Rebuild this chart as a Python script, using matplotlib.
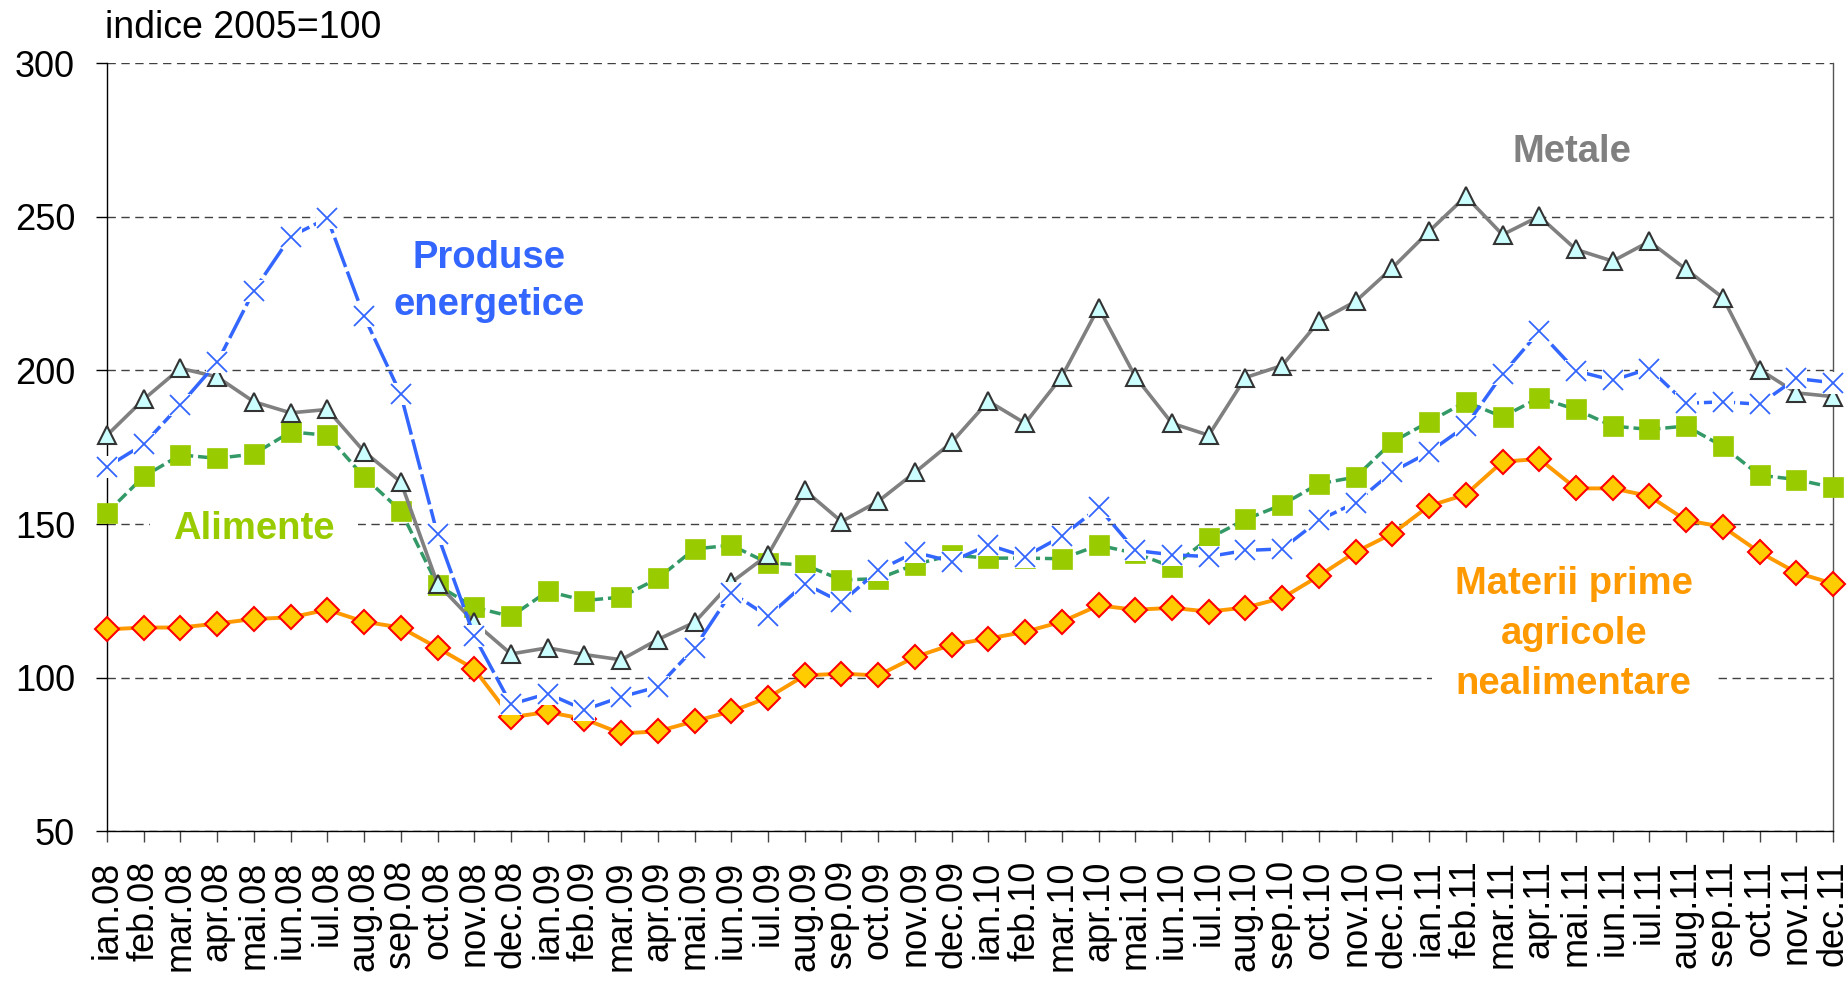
import matplotlib

matplotlib.use("Agg")
import matplotlib.pyplot as plt

plt.rcParams["font.family"] = ["Liberation Sans", "DejaVu Sans"]

# luni ian.08 - dec.11
labels = [
    "ian.08", "feb.08", "mar.08", "apr.08", "mai.08", "iun.08", "iul.08", "aug.08", "sep.08", "oct.08", "nov.08", "dec.08",
    "ian.09", "feb.09", "mar.09", "apr.09", "mai.09", "iun.09", "iul.09", "aug.09", "sep.09", "oct.09", "nov.09", "dec.09",
    "ian.10", "feb.10", "mar.10", "apr.10", "mai.10", "iun.10", "iul.10", "aug.10", "sep.10", "oct.10", "nov.10", "dec.10",
    "ian.11", "feb.11", "mar.11", "apr.11", "mai.11", "iun.11", "iul.11", "aug.11", "sep.11", "oct.11", "nov.11", "dec.11",
]

metale = [
    178.9, 190.6, 200.7, 197.9, 189.8, 186.2, 187.3, 173.6, 163.7, 130.6, 118.0, 107.7,
    109.7, 107.5, 105.8, 112.4, 118.0, 131.0, 140.0, 161.0, 150.8, 157.4, 166.8, 176.6,
    190.0, 182.8, 198.0, 220.5, 198.0, 182.8, 178.9, 197.7, 201.6, 216.0, 222.5, 233.4,
    245.3, 256.7, 244.2, 250.2, 239.4, 235.6, 242.0, 232.9, 223.7, 200.3, 192.7, 191.5,
]

energie = [
    168.6, 176.0, 188.9, 202.6, 226.0, 243.6, 249.6, 217.6, 192.2, 146.6, 113.5, 91.3,
    94.8, 89.5, 93.7, 97.0, 109.7, 127.7, 119.9, 130.6, 124.5, 134.9, 140.8, 137.8,
    143.2, 139.4, 146.0, 155.4, 141.4, 140.0, 139.4, 141.4, 141.9, 151.2, 157.0, 167.0,
    173.4, 181.9, 198.8, 212.7, 199.9, 196.8, 200.6, 189.3, 189.8, 189.0, 197.4, 196.0,
]

alimente = [
    153.7, 165.5, 172.5, 171.4, 172.8, 180.0, 178.9, 165.3, 154.3, 130.1, 122.9, 119.9,
    128.1, 125.1, 126.2, 132.3, 141.9, 143.1, 137.3, 136.7, 131.8, 132.2, 136.8, 139.9,
    138.9, 138.9, 138.7, 143.1, 140.5, 136.1, 145.3, 151.5, 156.3, 163.1, 165.3, 176.7,
    183.3, 189.8, 184.9, 191.1, 187.3, 181.9, 180.8, 181.9, 175.3, 165.9, 164.5, 161.9,
]

agricole = [
    115.7, 116.3, 116.3, 117.6, 119.1, 119.6, 122.1, 118.2, 116.3, 109.7, 102.8, 87.1,
    88.8, 86.5, 81.8, 82.5, 85.8, 89.0, 93.5, 100.7, 101.3, 100.7, 106.7, 110.7,
    112.7, 114.9, 118.2, 123.5, 122.1, 122.7, 121.5, 122.8, 125.9, 133.1, 140.9, 146.9,
    155.9, 159.6, 170.3, 171.2, 161.6, 161.6, 159.1, 151.2, 149.1, 140.8, 134.2, 130.6,
]

x = list(range(len(labels)))

fig = plt.figure(figsize=(18.48, 9.82), dpi=100)
ax = fig.add_axes([0.0579, 0.1536, 0.934, 0.7819])

ax.plot(x, alimente, color="#339966", lw=2.5, dashes=(3.2, 1.4),
        marker="s", ms=14.5, mfc="#99cc00", mec="#99cc00", mew=0.5, zorder=3, clip_on=False)
ax.plot(x, agricole, color="#ff9900", lw=2.8,
        marker="D", ms=12, mfc="#ffcc00", mec="#ff0000", mew=1.5, zorder=3, clip_on=False)
ax.plot(x, metale, color="#808080", lw=2.6,
        marker="^", ms=13.5, mfc="#ccffff", mec="#333333", mew=1.5, zorder=4, clip_on=False)
# marker "x" cu fundal alb, ca in Excel
ax.plot(x, energie, color="#3366ff", lw=2.5, dashes=(9, 1.4),
        marker="s", ms=16, mfc="white", mec="none", mew=0, zorder=5, clip_on=False)
ax.plot(x, energie, ls="none", marker="x", ms=15, mec="#3366ff", mew=1.3, zorder=5, clip_on=False)

ax.set_xlim(0, len(labels) - 1)
ax.set_ylim(50, 300)
ax.set_yticks(range(50, 301, 50))
ax.set_xticks(x)
ax.set_xticklabels(labels, rotation=90)

ax.yaxis.grid(True, color="#404040", lw=1.0, linestyle=(0, (6, 4)))
ax.set_axisbelow("line")

ax.spines["top"].set_visible(False)
ax.spines["right"].set_color("#555555")
ax.spines["right"].set_linewidth(1.0)
ax.spines["left"].set_linewidth(1.0)
ax.spines["bottom"].set_linewidth(1.0)

ax.tick_params(axis="y", direction="out", length=8, width=1, pad=15, labelsize=26)
ax.tick_params(axis="x", direction="out", length=8, width=1, pad=13, labelsize=26, color="#444444")

# va="baseline" pe text cu mai multe randuri -> baseline-ul ultimului rand
bold = dict(fontsize=27.5, fontweight="bold", ha="center", va="baseline")
box = dict(boxstyle="square,pad=0.6", fc="white", ec="none")
ax.text(39.9, 268.0, "Metale", color="#808080", **bold)
ax.text(10.4, 218.0, "Produse\nenergetice", color="#3366ff", linespacing=1.4, **bold)
ax.text(4.0, 145.2, "Alimente", color="#99cc00", bbox=box, zorder=1.8, **bold)
ax.text(39.94, 94.6, "Materii prime\nagricole\nnealimentare", color="#ff9900",
        linespacing=1.5, bbox=box, zorder=1.8, **bold)

fig.text(105.4 / 1848, 1 - 38.3 / 982, "indice 2005=100", fontsize=27, ha="left", va="baseline")

fig.savefig("out.png", dpi=100)
